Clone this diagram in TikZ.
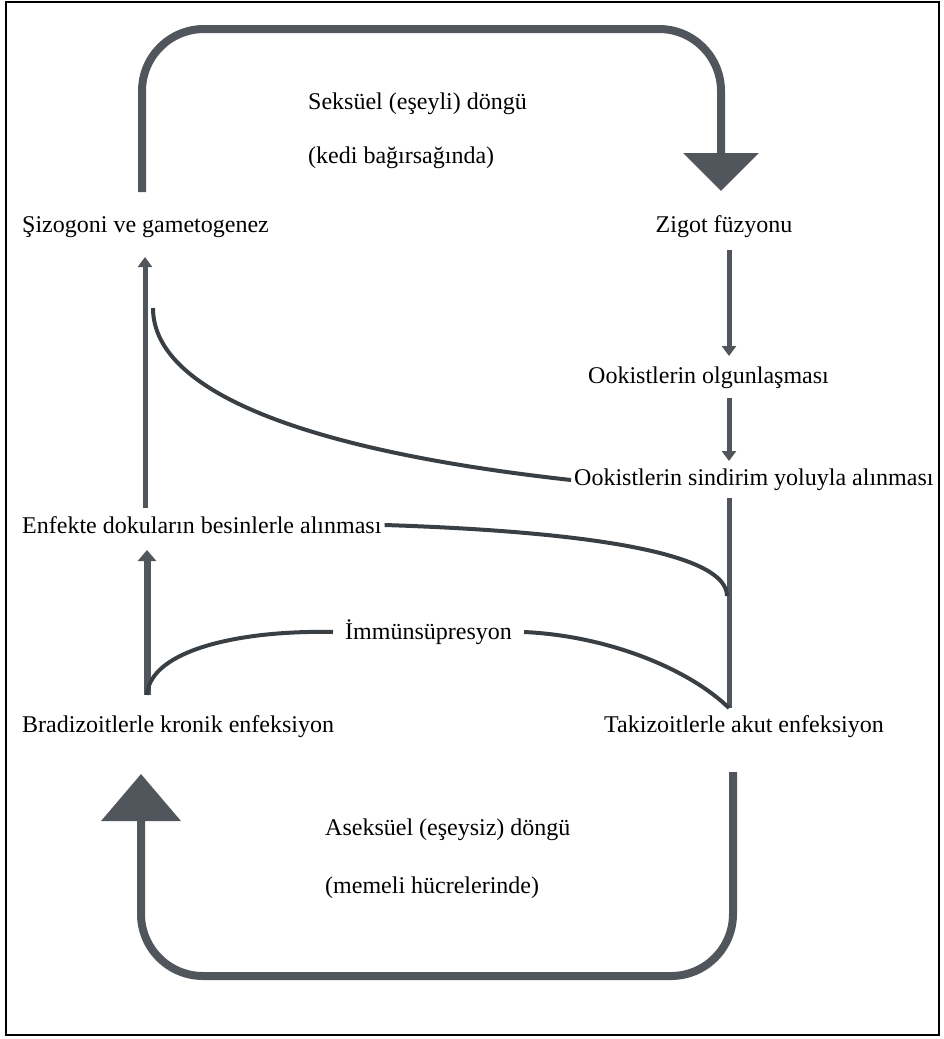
\documentclass[tikz,border=0pt]{standalone}
\usepackage{fontspec}
\setmainfont{Liberation Serif}
\usetikzlibrary{arrows.meta}
\definecolor{loopgray}{HTML}{50565C}
\definecolor{curvegray}{HTML}{3A3F44}
\tikzset{
  lbl/.style={inner sep=0pt, anchor=west, font=\fontsize{24}{28}\selectfont},
  bigloop/.style={draw=loopgray, line width=8pt, rounded corners=62pt},
  thinarr/.style={draw=loopgray, line width=5pt, -{Triangle[width=14pt,length=10pt]}},
  bendline/.style={draw=curvegray, line width=4pt}
}

\begin{document}
\begin{tikzpicture}[x=1pt, y=-1pt]
  \useasboundingbox (0,0) rectangle (943,1039);
  \draw[line width=1.8pt] (6,2) rectangle (939,1035);
  % labels
  \node[lbl] (seks) at (308,104) {Seksüel (eşeyli) döngü};
  \node[lbl] (kedi) at (308,158) {(kedi bağırsağında)};
  \node[lbl] (sizo) at (22,227) {Şizogoni ve gametogenez};
  \node[lbl, anchor=center] (zigot) at (724,227) {Zigot füzyonu};
  \node[lbl] (olgun) at (588,378) {Ookistlerin olgunlaşması};
  \node[lbl] (sindir) at (574,480) {Ookistlerin sindirim yoluyla alınması};
  \node[lbl] (enfekte) at (22,525) {Enfekte dokuların besinlerle alınması};
  \node[lbl] (immun) at (345,632) {İmmünsüpresyon};
  \node[lbl] (bradi) at (22,727) {Bradizoitlerle kronik enfeksiyon};
  \node[lbl] (taki) at (604,727) {Takizoitlerle akut enfeksiyon};
  \node[lbl] (aseks) at (325,830) {Aseksüel (eşeysiz) döngü};
  \node[lbl] (memeli) at (325,888) {(memeli hücrelerinde)};
  % columns
  \coordinate (lcol) at (145,0);
  \coordinate (rcol) at (729,0);
  % big loops
  \coordinate (topA) at (142,192);
  \coordinate (topB) at (721,191);
  \coordinate (botA) at (733,772);
  \coordinate (botB) at (141,774);
  \draw[bigloop, -{Triangle[width=74pt,length=38pt]}]
    (topA) -- (142,29) -- (721,29) -- (topB);
  \draw[bigloop, -{Triangle[width=78pt,length=47pt]}]
    (botA) -- (733,976) -- (141,976) -- (botB);
  % right column
  \draw[thinarr] (rcol |- 0,250) -- (rcol |- 0,356);
  \draw[thinarr] (rcol |- 0,398) -- (rcol |- 0,461);
  \draw[loopgray, line width=5pt] (rcol |- 0,498) -- (rcol |- 0,708);
  % left column
  \draw[thinarr] (lcol |- 0,508) -- (lcol |- 0,257);
  \draw[thinarr, line width=7pt, -{Triangle[width=18pt,length=11pt]}] (147,695) -- (147,550);
  % curved links
  \draw[bendline] (153,308) .. controls (153,390) and (300,450) .. ([xshift=-3pt]sindir.west);
  \draw[bendline] ([xshift=3pt]enfekte.east) .. controls (600,532) and (727,555) .. (727,596);
  \draw[bendline] (147,695) .. controls (150,650) and (240,630) .. ([xshift=-12pt]immun.west);
  \draw[bendline] ([xshift=12pt]immun.east) .. controls (610,636) and (690,670) .. (729,708);
\end{tikzpicture}
\end{document}
